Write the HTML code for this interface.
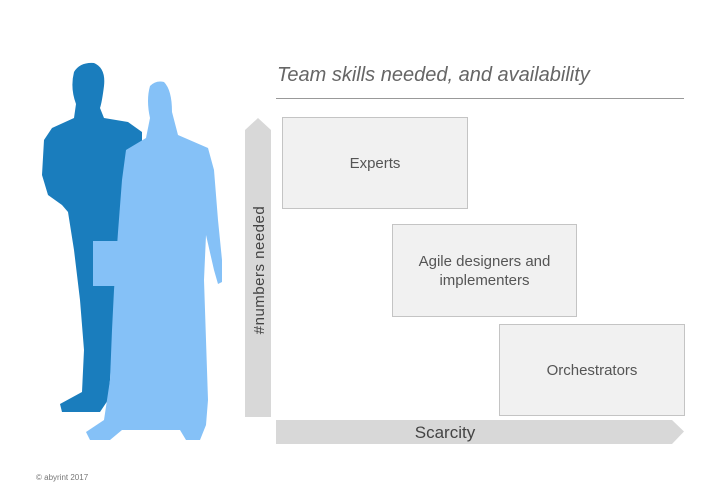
<!DOCTYPE html>
<html><head><style>
body{margin:0;width:720px;height:498px;background:#fff;position:relative;overflow:hidden;font-family:"Liberation Sans",sans-serif}
.box{position:absolute;background:#f1f1f1;border:1px solid #c4c4c4;box-sizing:border-box;display:flex;align-items:center;justify-content:center;text-align:center;color:#555;font-size:15px;line-height:19px}
</style></head><body>
<svg width="720" height="498" style="position:absolute;left:0;top:0">
<!-- man -->
<path fill="#1a7dbd" d="M74,72 Q80,62 94,63 Q106,68 104,86 Q102,102 100,108 L104,118 L128,122 L142,132 L142,150 L134,170 L128,190 L120,210 L118,250 L114,300 L112,350 L110,380 L108,400 L100,412 L62,412 L60,404 L82,392 L84,350 L80,300 L74,250 L68,212 L62,205 L48,195 L42,175 L44,140 L52,128 L74,118 L76,104 Q70,88 74,72 Z"/>
<!-- woman -->
<path fill="#85c1f7" d="M150,86 Q156,80 164,82 Q172,90 172,112 L178,135 L208,148 L214,170 L218,220 L222,260 L222,282 L218,284 L214,270 L206,235 L204,280 L206,340 L208,400 L206,425 L200,440 L186,440 L180,430 L122,430 L110,440 L90,440 L86,432 L104,420 L110,380 L112,330 L114,290 L118,232 L122,180 L126,150 L146,138 L150,118 Q146,100 150,86 Z"/>
<rect x="93" y="241" width="36" height="45" fill="#85c1f7"/>
<!-- arrows -->
<polygon fill="#d8d8d8" points="245,130 258,118 271,130 271,417 245,417"/>
<polygon fill="#d8d8d8" points="276,420 672,420 684,431.5 672,444 276,444"/>
<line x1="276" y1="98.5" x2="684" y2="98.5" stroke="#999" stroke-width="1"/>
<text x="277" y="81" font-family="Liberation Sans" font-style="italic" font-size="20" fill="#666">Team skills needed, and availability</text>
<text x="445" y="438" font-family="Liberation Sans" font-size="17" fill="#444" text-anchor="middle">Scarcity</text>
<text transform="translate(264,270) rotate(-90)" font-family="Liberation Sans" font-size="15" fill="#444" text-anchor="middle" letter-spacing="0.5">#numbers needed</text>
<text x="36" y="480" font-family="Liberation Sans" font-size="8" fill="#777">© abyrint 2017</text>
</svg>
<div class="box" style="left:282px;top:117px;width:186px;height:92px">Experts</div>
<div class="box" style="left:392px;top:224px;width:185px;height:93px">Agile designers and<br>implementers</div>
<div class="box" style="left:499px;top:324px;width:186px;height:92px">Orchestrators</div>
</body></html>
